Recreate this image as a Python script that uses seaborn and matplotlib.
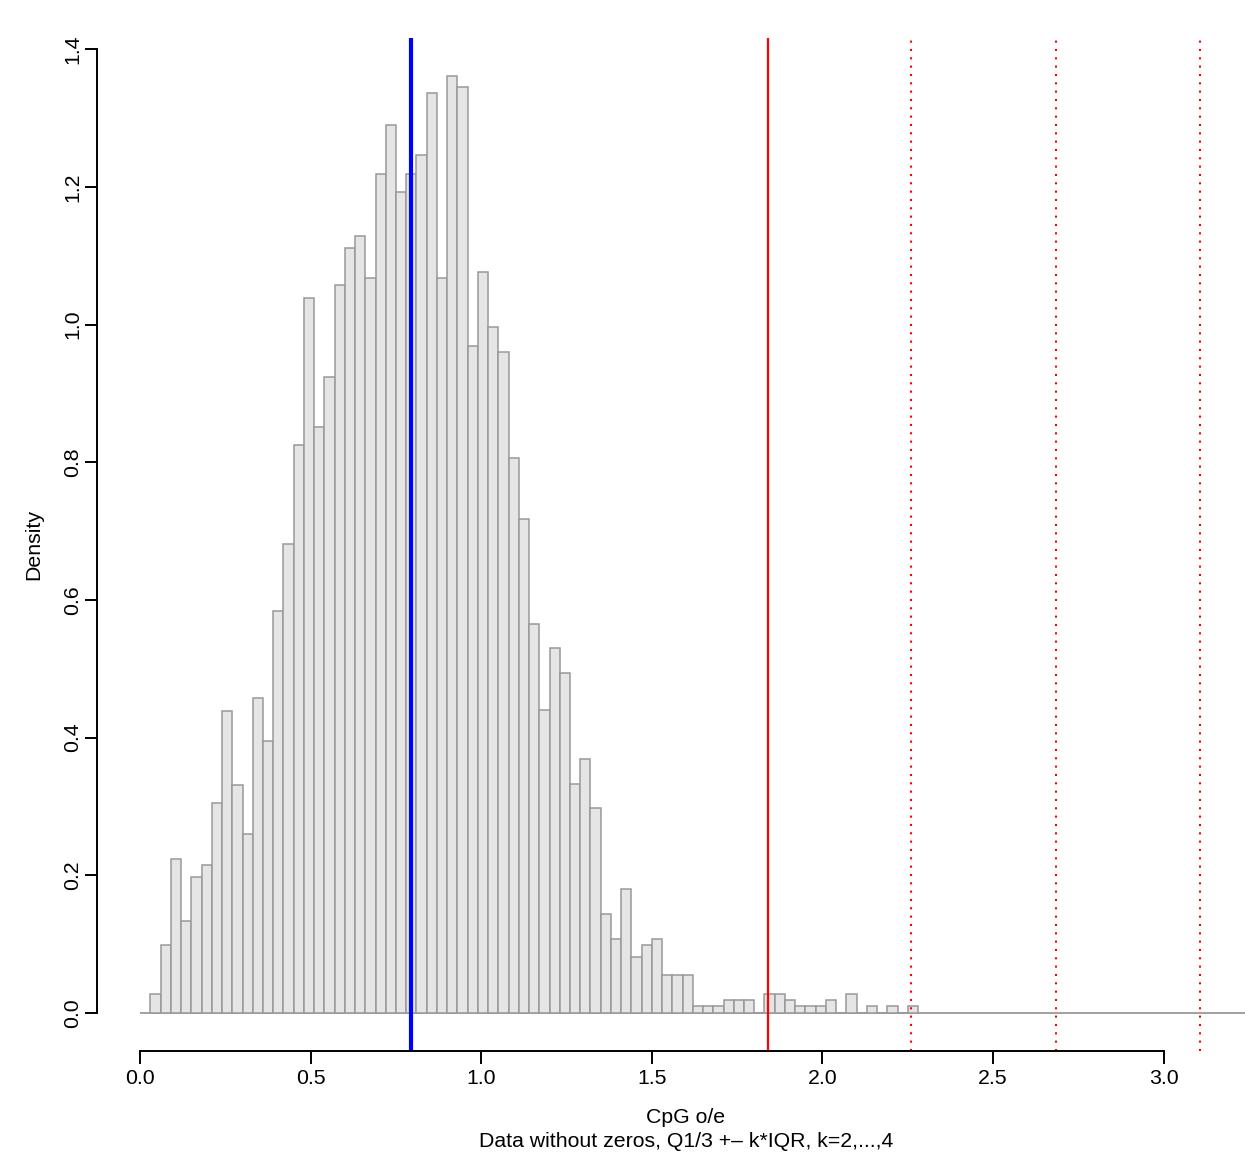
import numpy as np
import pandas as pd
import seaborn as sns
import matplotlib
matplotlib.use("Agg")
import matplotlib.pyplot as plt

# histogram: bins of 0.03 starting at 0.03, density per bin
bin_start = 0.03
bin_width = 0.03
density = [0.0276, 0.099, 0.224, 0.134, 0.197, 0.215, 0.3055, 0.439, 0.3315, 0.260,
           0.4575, 0.3946, 0.5836, 0.682, 0.8245, 1.0394, 0.8514, 0.9236, 1.058, 1.1117,
           1.1293, 1.0673, 1.2192, 1.2906, 1.1924, 1.2192, 1.246, 1.336, 1.0673, 1.362,
           1.345, 0.969, 1.0766, 0.996, 0.9598, 0.806, 0.718, 0.565, 0.44, 0.53,
           0.4937, 0.3324, 0.3686, 0.2973, 0.1434, 0.108, 0.1796, 0.0813, 0.0992, 0.108,
           0.0547, 0.0547, 0.0547, 0.0096, 0.0096, 0.0096, 0.0193, 0.0193, 0.0193, 0.0,
           0.0276, 0.0276, 0.0193, 0.0096, 0.0096, 0.0096, 0.0193, 0.0, 0.0276, 0.0,
           0.0096, 0.0, 0.0096, 0.0, 0.0096]

median_line = 0.794
fence_solid = 1.839
fence_dotted = [2.261, 2.684, 3.107]

xticks = [0.0, 0.5, 1.0, 1.5, 2.0, 2.5, 3.0]
yticks = [0.0, 0.2, 0.4, 0.6, 0.8, 1.0, 1.2, 1.4]

edges = bin_start + bin_width * np.arange(len(density) + 1)
df = pd.DataFrame({"mid": edges[:-1] + bin_width / 2, "dens": density})

sns.set_style("ticks")
plt.rcParams['font.family'] = ['Liberation Sans', 'DejaVu Sans']
plt.rcParams['text.color'] = 'black'
plt.rcParams['axes.labelcolor'] = 'black'

W, H = 1245, 1152
fs = 15.3
fig = plt.figure(figsize=(W / 100, H / 100), dpi=100)
ax = fig.add_axes([96.5 / W, 1 - 1050.5 / H, (1275.5 - 96.5) / W, (1050.5 - 38) / H])

sns.histplot(data=df, x="mid", weights="dens", bins=[float(e) for e in edges],
             stat="count", color="#e5e5e5", edgecolor="#999999", linewidth=1.1,
             alpha=1, ax=ax)
ax.hlines(0, 0, 3.5, color="#999999", lw=1.3, zorder=0.5)

ax.axvline(median_line, color="#0000ff", lw=3)
ax.axvline(fence_solid, color="#ff0000", lw=1.6)
for v in fence_dotted:
    ax.axvline(v, color="#ff0000", lw=1.5, linestyle=(0, (1, 3)))

ax.set_xlim(-0.128, 3.328)
ax.set_ylim(-0.0545, 1.4165)
ax.set_xticks(xticks)
ax.set_xticklabels([f"{t:.1f}" for t in xticks])
ax.set_yticks(yticks)
ax.set_yticklabels([f"{t:.1f}" for t in yticks], rotation=90, va="center", ha="right")
ax.tick_params(axis="both", length=9, width=1.4, colors="black", labelcolor="black",
               labelsize=fs)
ax.tick_params(axis="x", pad=4.5)
ax.tick_params(axis="y", pad=1)
ax.set_xlabel("")
ax.set_ylabel("")

for s in ["top", "right"]:
    ax.spines[s].set_visible(False)
ax.spines["left"].set_bounds(0, 1.4)
ax.spines["bottom"].set_bounds(0, 3.0)
for s in ["left", "bottom"]:
    ax.spines[s].set_linewidth(1.4)
    ax.spines[s].set_color("black")

fig.text(686 / W, 1 - 1122.7 / H, "CpG o/e", ha="center", va="baseline",
         fontsize=fs, color="black")
fig.text(686 / W, 1 - 1146.7 / H, "Data without zeros, Q1/3 +\u2013 k*IQR, k=2,...,4",
         ha="center", va="baseline", fontsize=fs, color="black")
fig.text(34 / W, 1 - 544 / H, "Density", rotation=90, ha="center", va="center",
         fontsize=fs, color="black")

fig.savefig("out.png", dpi=100)
